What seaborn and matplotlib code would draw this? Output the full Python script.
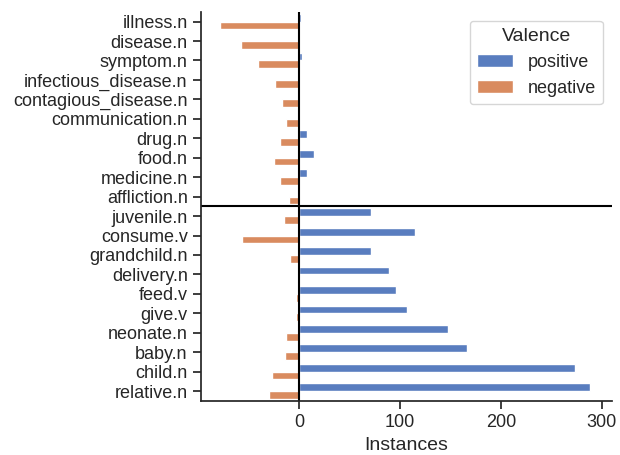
import pandas as pd
import numpy as np
import seaborn as sns
import matplotlib.pyplot as plt

words = ["illness.n", "disease.n", "symptom.n", "infectious_disease.n",
         "contagious_disease.n", "communication.n", "drug.n", "food.n",
         "medicine.n", "affliction.n", "juvenile.n", "consume.v",
         "grandchild.n", "delivery.n", "feed.v", "give.v", "neonate.n",
         "baby.n", "child.n", "relative.n"]
positive = [2, 0, 3, 0, 0, 0, 8, 15, 8, 0,
            71, 115, 71, 89, 96, 107, 148, 166, 273, 288]
negative = [78, 57, 40, 24, 17, 13, 19, 25, 19, 10,
            15, 56, 9, 2, 3, 3, 13, 14, 27, 30]

df = pd.DataFrame({
    "word": words * 2,
    "Instances": positive + [-v for v in negative],
    "Valence": ["positive"] * len(words) + ["negative"] * len(words),
})

sns.set_theme(style="ticks", palette="muted")
plt.rcParams["font.family"] = ["Liberation Sans", "DejaVu Sans"]

fig, ax = plt.subplots(figsize=(6.2, 4.55), dpi=100)
fig.subplots_adjust(left=0.324, right=0.987, bottom=0.119, top=0.974)

sns.barplot(data=df, y="word", x="Instances", hue="Valence", order=words,
            hue_order=["positive", "negative"], orient="h", ax=ax)

ax.axvline(0, color="black", lw=1.5)
ax.axhline(9.5, color="black", lw=1.5)
ax.set_xlim(-97, 310)
ax.set_ylabel("")
ax.set_xlabel("Instances", fontsize=14)
ax.tick_params(labelsize=13)
sns.despine(ax=ax)

leg = ax.legend(title="Valence", loc="upper right", fontsize=13, title_fontsize=14)

fig.savefig("out.png")
